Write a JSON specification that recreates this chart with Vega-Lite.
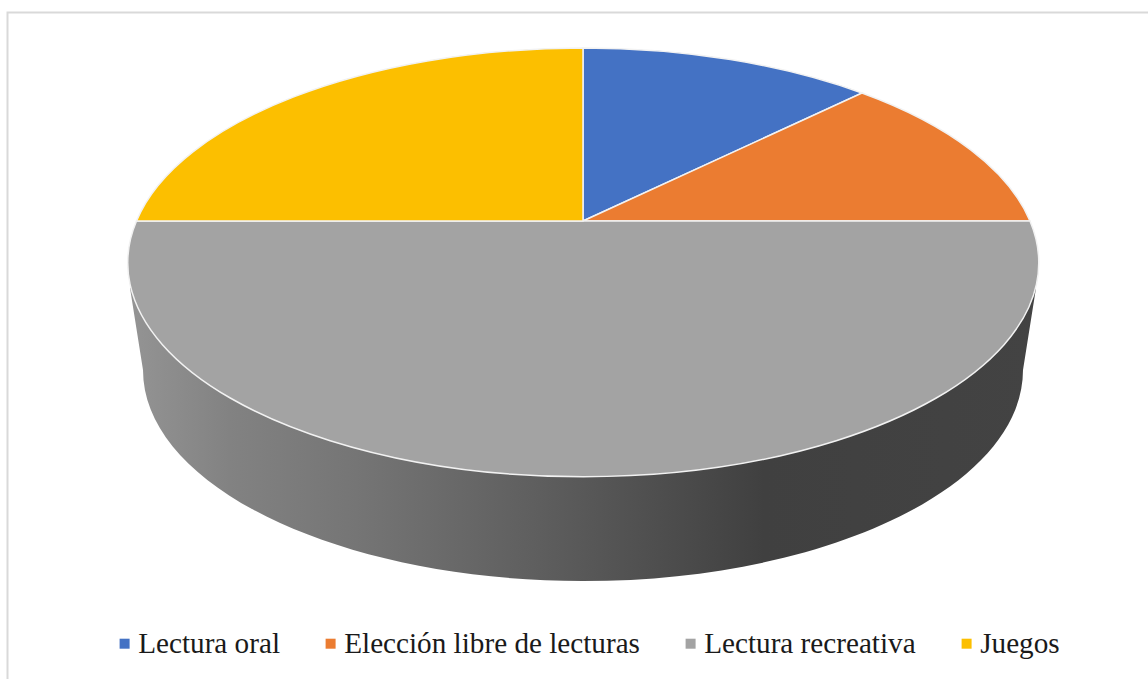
{
  "$schema": "https://vega.github.io/schema/vega-lite/v6.json",
  "width": 1148,
  "height": 679,
  "padding": 0,
  "autosize": "none",
  "background": "white",
  "config": {"view": {"stroke": null}},
  "data": {"values": [
    {"categoria": "Lectura oral", "sector": "a", "valor": 12.5},
    {"categoria": "Elección libre de lecturas", "sector": "b", "valor": 12.5},
    {"categoria": "Lectura recreativa", "sector": "c", "valor": 50},
    {"categoria": "Juegos", "sector": "d", "valor": 25}
  ]},
  "layer": [
    {
      "transform": [{"filter": "datum.categoria === 'Juegos'"}],
      "mark": {"type": "point", "size": 4, "filled": false, "fill": null, "opacity": 1, "stroke": "#d9d9d9", "strokeWidth": 2,
        "shape": "M-566.5,345 L-566.5,-327 L580,-327"},
      "encoding": {}
    },
    {
      "transform": [{"filter": "datum.categoria === 'Lectura recreativa'"}],
      "mark": {"type": "point", "size": 4, "filled": true, "opacity": 1,
        "shape": "M-444,-51.5 L-431,30.5 A440,211 0 0 0 449,30.5 L462,-51.5 Z",
        "fill": {"gradient": "linear", "x1": 0, "y1": 0, "x2": 1, "y2": 0, "stops": [
          {"offset": 0, "color": "#949494"},
          {"offset": 0.11, "color": "#828282"},
          {"offset": 0.25, "color": "#757575"},
          {"offset": 0.444, "color": "#5f5f5f"},
          {"offset": 0.7, "color": "#404040"},
          {"offset": 1, "color": "#434343"}
        ]}},
      "encoding": {}
    },
    {
      "mark": {"type": "point", "size": 4, "filled": true, "opacity": 1, "stroke": "#f2f2f2", "strokeWidth": 1.5},
      "encoding": {
        "color": {
          "field": "categoria", "type": "nominal",
          "scale": {
            "domain": ["Lectura oral", "Elección libre de lecturas", "Lectura recreativa", "Juegos"],
            "range": ["#4472c4", "#eb7c31", "#a3a3a3", "#fcbf00"]
          },
          "legend": {
            "title": null, "orient": "none", "direction": "horizontal", "columns": 4,
            "legendX": 110, "legendY": 629,
            "symbolType": "square", "symbolSize": 100, "symbolStrokeWidth": 0,
            "labelFont": "Liberation Serif", "labelFontSize": 29.2, "labelColor": "#1a1a1a",
            "labelOffset": -1, "columnPadding": 36, "labelLimit": 500, "padding": 0
          }
        },
        "shape": {
          "field": "sector", "type": "nominal", "legend": null,
          "scale": {
            "domain": ["a", "b", "c", "d"],
            "range": [
              "M9,-118.5 L9,-291.5 A455.5,214 0 0 1 288,-246.5 Z",
              "M9,-118.5 L288,-246.5 A455.5,214 0 0 1 456,-118.5 Z",
              "M-437.5,-118.5 A455.5,214 0 1 0 456,-118.5 Z",
              "M9,-118.5 L-437.5,-118.5 A455.5,214 0 0 1 9,-291.5 Z"
            ]
          }
        },
        "tooltip": {"field": "valor", "type": "quantitative"}
      }
    }
  ]
}
